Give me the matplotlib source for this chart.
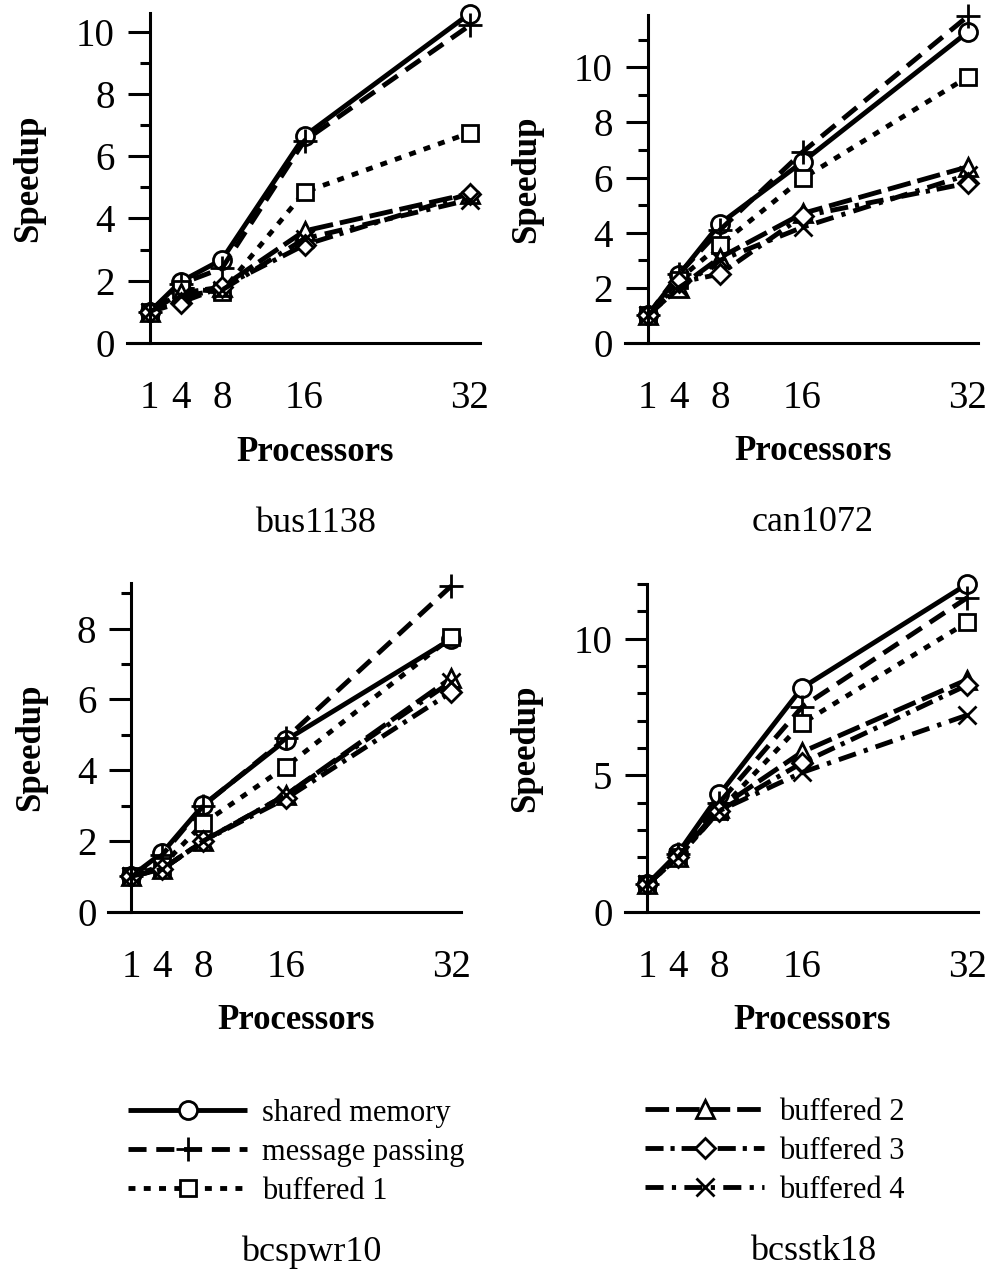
import matplotlib
matplotlib.use('Agg')
import matplotlib.pyplot as plt
from matplotlib.ticker import MultipleLocator

plt.rcParams['font.family'] = ['Liberation Serif', 'DejaVu Serif']
plt.rcParams['lines.scale_dashes'] = False

procs = [1, 4, 8, 16, 32]
series_names = ['shared memory', 'message passing', 'buffered 1',
                'buffered 2', 'buffered 3', 'buffered 4']

# speedup per matrix, one list per series (same order as series_names)
bus1138 = [
    [1.0, 1.97, 2.68, 6.65, 10.58],
    [1.0, 1.9, 2.4, 6.5, 10.2],
    [1.0, 1.75, 1.65, 4.85, 6.75],
    [1.0, 1.6, 1.8, 3.6, 4.8],
    [1.0, 1.3, 1.8, 3.15, 4.8],
    [1.0, 1.5, 1.7, 3.35, 4.6],
]
can1072 = [
    [1.0, 2.46, 4.33, 6.57, 11.28],
    [1.0, 2.5, 4.1, 6.93, 11.85],
    [1.0, 2.3, 3.55, 5.97, 9.65],
    [1.0, 2.0, 3.1, 4.7, 6.39],
    [1.0, 2.2, 2.5, 4.6, 5.8],
    [1.0, 2.0, 3.0, 4.2, 6.1],
]
bcspwr10 = [
    [1.0, 1.66, 3.02, 4.85, 7.7],
    [1.0, 1.6, 3.0, 4.9, 9.2],
    [1.0, 1.3, 2.5, 4.1, 7.75],
    [1.0, 1.2, 2.0, 3.3, 6.6],
    [1.0, 1.2, 2.0, 3.2, 6.2],
    [1.0, 1.2, 2.0, 3.3, 6.5],
]
bcsstk18 = [
    [1.0, 2.15, 4.3, 8.2, 12.0],
    [1.0, 2.1, 4.0, 7.5, 11.5],
    [1.0, 2.0, 3.7, 6.9, 10.6],
    [1.0, 2.0, 3.8, 5.85, 8.5],
    [1.0, 2.0, 3.7, 5.45, 8.3],
    [1.0, 2.0, 3.7, 5.1, 7.2],
]

# line style per series: dash pattern (points), marker, marker size
styles = [
    dict(ls='-', marker='o', ms=13),
    dict(dashes=(13, 7), marker='+', ms=17),
    dict(dashes=(5, 6), marker='s', ms=12),
    dict(dashes=(17, 5), marker='^', ms=13),
    dict(dashes=(13, 5, 3, 5), marker='D', ms=10),
    dict(dashes=(13, 6, 3, 6), marker='x', ms=13),
]

# panel: (name, data, axes rect in px [left, bottom, width, height], ytop, major, minor,
#         title position in axes coords)
W, H = 995, 1275
panels = [
    ('bus1138', bus1138, (127, 343, 353, 330), 10.6, 2, 1, (0.533, -0.546)),
    ('can1072', can1072, (625, 343, 353, 328), 11.9, 2, 1, (0.531, -0.546)),
    ('bcspwr10', bcspwr10, (108.5, 911.7, 353, 328.5), 9.28, 2, 1, (0.574, -1.037)),
    ('bcsstk18', bcsstk18, (624.5, 911.7, 353, 327.6), 12.0, 5, 1, (0.533, -1.037)),
]

fig = plt.figure(figsize=(W / 100, H / 100), dpi=100)
handles = []
for name, data, (l, b, w, h), ytop, major, minor, tpos in panels:
    ax = fig.add_axes([l / W, 1 - b / H, w / W, h / H])
    for vals, st, lab in zip(data, styles, series_names):
        line, = ax.plot(procs, vals, color='black', lw=3.5, mfc='white',
                        mec='black', mew=2.0, clip_on=False, label=lab,
                        solid_capstyle='butt', dash_capstyle='butt', **st)
        if len(handles) < 6:
            handles.append(line)
    ax.set_xlim(-1.2, 33.0)
    ax.set_ylim(0, ytop)
    ax.spines['top'].set_visible(False)
    ax.spines['right'].set_visible(False)
    ax.spines['left'].set_position(('data', 1))
    ax.spines['left'].set_linewidth(2.2)
    ax.spines['bottom'].set_linewidth(2.2)
    ax.set_xticks(procs)
    ax.yaxis.set_major_locator(MultipleLocator(major))
    ax.yaxis.set_minor_locator(MultipleLocator(minor))
    ax.tick_params(axis='x', length=0, pad=27, labelsize=28)
    ax.tick_params(axis='y', which='major', length=16, width=2.2, pad=9, labelsize=28)
    ax.tick_params(axis='y', which='minor', length=7.5, width=2.2)
    ax.set_xlabel('Processors', fontsize=25, fontweight='bold')
    ax.xaxis.label.set_va('center')
    ax.xaxis.set_label_coords(0.532, -0.332)
    ax.set_ylabel('Speedup', fontsize=25, fontweight='bold')
    ax.yaxis.label.set_va('center')
    ax.yaxis.set_label_coords(-0.28 if l > 120 else -0.222, 0.5)
    ax.text(tpos[0], tpos[1], name, transform=ax.transAxes, ha='center',
            va='center', fontsize=26)

leg_kw = dict(frameon=False, fontsize=22, handlelength=3.9, handletextpad=0.5,
              labelspacing=0.33, borderpad=0, borderaxespad=0, loc='upper left')
fig.legend(handles[:3], series_names[:3], bbox_to_anchor=(128 / W, 1 - 1098 / H), **leg_kw)
fig.legend(handles[3:], series_names[3:], bbox_to_anchor=(645 / W, 1 - 1098 / H), **leg_kw)

fig.savefig('out.png', dpi=100)
